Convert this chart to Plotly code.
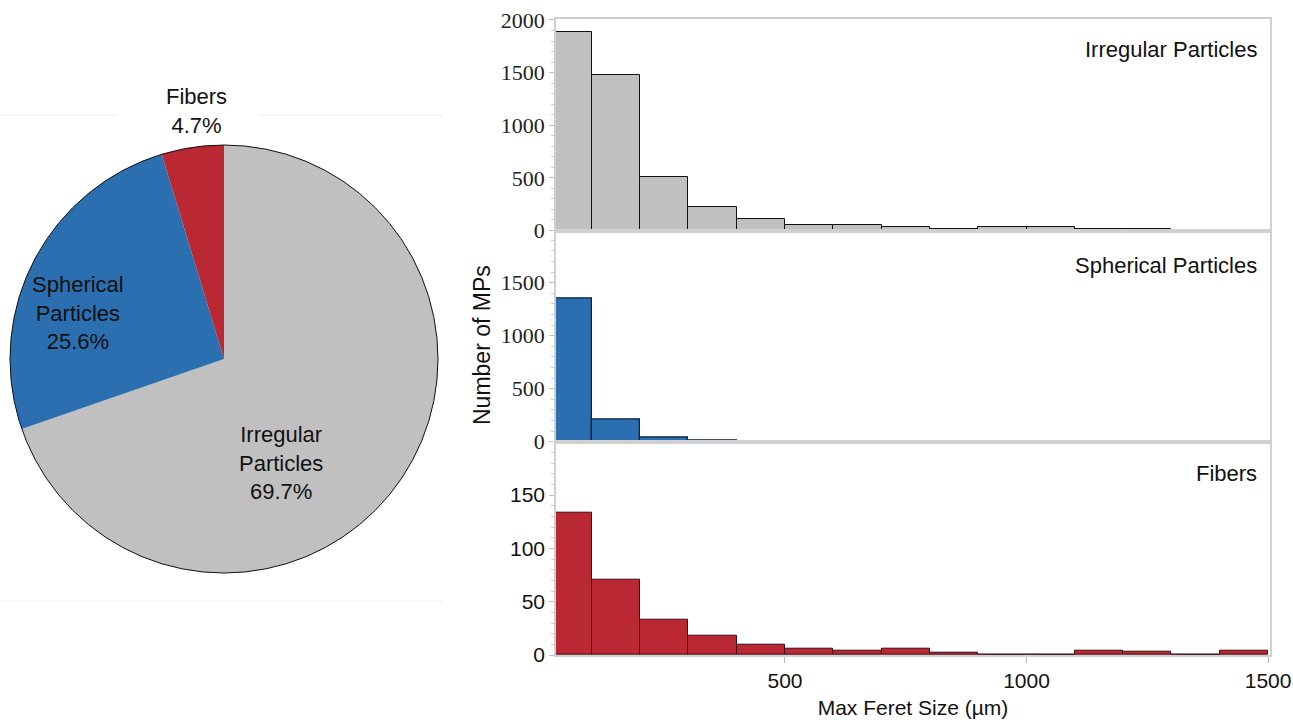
import plotly.graph_objects as go

W, H = 1293, 724

# ---------------- data ----------------
pie_labels = ["Irregular<br>Particles", "Spherical<br>Particles", "Fibers"]
pie_values = [69.7, 25.6, 4.7]
pie_colors = ["#C0C0C0", "#2B6FB0", "#B92833"]

bin_width = 100
irregular_bins = [50, 150, 250, 350, 450, 550, 650, 750, 850, 950, 1050, 1150, 1250]
irregular_counts = [1881, 1476, 507, 226, 105, 57, 48, 38, 19, 29, 29, 16, 13]

spherical_bins = [50, 150, 250, 350]
spherical_counts = [1346, 211, 35, 13]

fiber_bins = [50, 150, 250, 350, 450, 550, 650, 750, 850, 950, 1050, 1150, 1250, 1350, 1450]
fiber_counts = [133, 71, 33, 18, 10, 6, 4, 6, 2, 0, 0, 4, 3, 0, 4]

panel_titles = ["Irregular Particles", "Spherical Particles", "Fibers"]
x_ticks = [500, 1000, 1500]
y_ticks_top = [0, 500, 1000, 1500, 2000]
y_ticks_mid = [0, 500, 1000, 1500]
y_ticks_bot = [0, 50, 100, 150]
x_title = "Max Feret Size (µm)"
y_title = "Number of MPs"


def px(x):
    return x / W


def py(y):
    return 1 - y / H


fig = go.Figure()

# ---------------- pie ----------------
cx, cy, r = 224, 359, 214
fig.add_trace(go.Pie(
    labels=[l.replace("<br>", " ") for l in pie_labels],
    values=pie_values,
    marker=dict(colors=pie_colors, line=dict(width=0)),
    sort=False, direction="clockwise", rotation=0,
    textinfo="none", hoverinfo="label+percent", showlegend=False, automargin=False,
    domain=dict(x=[px(cx - r), px(cx + r)], y=[py(cy + r), py(cy - r)]),
))

# ---------------- histograms ----------------
XL, XR = 556, 1270
panels = [(19, 230.5), (230.5, 441.7), (441.7, 655)]
hist_specs = [
    (irregular_bins, irregular_counts, "#C0C0C0", "#111111", 1.0),
    (spherical_bins, spherical_counts, "#2B6FB0", "#0B2440", 1.3),
    (fiber_bins, fiber_counts, "#B92833", "#3A0C10", 1.0),
]
for i, (xb, yc, col, lcol, lw) in enumerate(hist_specs):
    ax = "" if i == 0 else str(i + 1)
    fig.add_trace(go.Bar(
        x=xb, y=yc, width=bin_width,
        marker=dict(color=col, line=dict(color=lcol, width=lw)),
        xaxis="x" + ax, yaxis="y" + ax, showlegend=False,
    ))

serif = "Liberation Serif, Times New Roman, serif"
sans = "Liberation Sans, Arial, sans-serif"
common_x = dict(range=[26, 1504], domain=[px(XL), px(XR)], showgrid=False, zeroline=False,
                showline=True, linecolor="#D0D0D0", linewidth=1.5, mirror=True, automargin=False)
common_y = dict(showgrid=False, zeroline=False, showline=True, linecolor="#D0D0D0",
                linewidth=1.5, mirror=True, ticks="outside", ticklen=5, tickcolor="#BBBBBB",
                tickwidth=1, automargin=False)

yranges = [[0, 2009], [0, 1992], [0, 200]]
ytv = [y_ticks_top, y_ticks_mid, y_ticks_bot]
minor_dt = [100, 100, 10]
yfonts = [dict(family=serif, size=22, color="#222"),
          dict(family=serif, size=22, color="#222"),
          dict(family=sans, size=21, color="#111")]

for i, (top, bot) in enumerate(panels):
    ax = "" if i == 0 else str(i + 1)
    xa = dict(common_x)
    xa["anchor"] = "y" + ax
    if i == 2:
        xa.update(tickvals=x_ticks, ticks="outside", ticklen=6, tickcolor="#BBBBBB",
                  tickfont=dict(family=sans, size=21, color="#111"),
                  title=dict(text=x_title, font=dict(family=sans, size=21, color="#111"), standoff=9))
    else:
        xa.update(showticklabels=False, ticks="")
        xa["matches"] = "x3"
    ya = dict(common_y)
    ya.update(domain=[py(bot), py(top)], range=yranges[i], tickvals=ytv[i],
              tickfont=yfonts[i], anchor="x" + ax,
              minor=dict(dtick=minor_dt[i], ticks="outside", ticklen=3, tickcolor="#CCCCCC"))
    fig.layout["xaxis" + ax] = xa
    fig.layout["yaxis" + ax] = ya

annotations = []
# pie labels
pct = [f"{v:.1f}%" for v in pie_values]
label_pos = [(281, 463), (78, 313), (196, 111)]
for lab, p, (lx, ly) in zip(pie_labels, pct, label_pos):
    annotations.append(dict(x=px(lx), y=py(ly), xref="paper", yref="paper",
                            text=f"{lab}<br>{p}", showarrow=False, align="center",
                            font=dict(family=sans, size=22, color="#111"),
                            xanchor="center", yanchor="middle"))
# panel titles
for t, ty in zip(panel_titles, [50, 265, 473]):
    annotations.append(dict(x=px(1259), y=py(ty), xref="paper", yref="paper", text=t,
                            showarrow=False, xanchor="right", yanchor="middle",
                            font=dict(family=sans, size=22, color="#111")))
annotations.append(dict(x=px(482), y=py(345), xref="paper", yref="paper", text=y_title,
                        showarrow=False, textangle=-90, xanchor="center", yanchor="middle",
                        font=dict(family=sans, size=23, color="#111")))

shapes = [
    dict(type="circle", xref="paper", yref="paper",
         x0=px(cx - r), x1=px(cx + r), y0=py(cy + r), y1=py(cy - r),
         line=dict(color="#111", width=1)),
    dict(type="line", xref="paper", yref="paper", x0=0, x1=px(117), y0=py(115), y1=py(115),
         line=dict(color="#EEEEEE", width=1)),
    dict(type="line", xref="paper", yref="paper", x0=px(260), x1=px(443), y0=py(115), y1=py(115),
         line=dict(color="#EEEEEE", width=1)),
    dict(type="line", xref="paper", yref="paper", x0=0, x1=px(443), y0=py(601), y1=py(601),
         line=dict(color="#EEEEEE", width=1)),
]

fig.update_layout(
    width=W, height=H, margin=dict(l=0, r=0, t=0, b=0, autoexpand=False),
    paper_bgcolor="white", plot_bgcolor="white", bargap=0,
    annotations=annotations, shapes=shapes,
)

fig.write_html(
    "out.html",
    config={"displayModeBar": False},
    post_script="document.body.style.margin='0';document.body.style.overflow='hidden';"
                "document.documentElement.style.overflow='hidden';",
)
